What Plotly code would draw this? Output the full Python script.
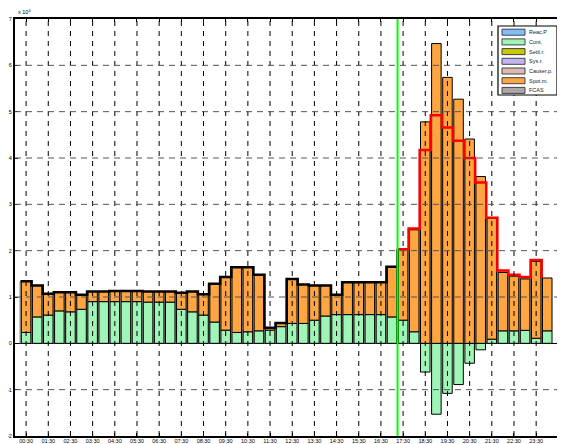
import plotly.graph_objects as go

# half-hour trading intervals, 1 = 00:30 ... 48 = 24:00
period = list(range(1, 49))

# values in units of 1e4
cont = [0.235, 0.57, 0.61, 0.70, 0.68, 0.735, 0.90, 0.90, 0.90, 0.90,
        0.90, 0.89, 0.89, 0.89, 0.735, 0.68, 0.61, 0.46, 0.285, 0.235,
        0.25, 0.27, 0.285, 0.36, 0.43, 0.43, 0.50, 0.59, 0.62, 0.62,
        0.62, 0.62, 0.62, 0.57, 0.50, 0.25, -0.62, -1.53, -1.08, -0.89,
        -0.43, -0.14, 0.09, 0.27, 0.27, 0.28, 0.11, 0.27]
spot = [1.105, 0.68, 0.46, 0.40, 0.42, 0.315, 0.22, 0.22, 0.23, 0.23,
        0.23, 0.23, 0.23, 0.23, 0.355, 0.44, 0.45, 0.825, 1.145, 1.405,
        1.39, 1.21, 0.05, 0.08, 0.96, 0.84, 0.75, 0.66, 0.43, 0.70,
        0.70, 0.70, 0.70, 1.085, 1.53, 2.20, 4.78, 6.47, 5.74, 5.27,
        4.41, 3.60, 2.62, 1.26, 1.18, 1.11, 1.66, 1.14]

# forecast total for the rest of the day
forecast_period = list(range(35, 49))
forecast = [2.03, 2.48, 4.17, 4.92, 4.66, 4.37, 4.00, 3.47, 2.71, 1.57,
            1.48, 1.43, 1.80, 1.41]

now_time = "17:15"

tick_labels = ["00:30", "01:30", "02:30", "03:30", "04:30", "05:30", "06:30",
               "07:30", "08:30", "09:30", "10:30", "11:30", "12:30", "13:30",
               "14:30", "15:30", "16:30", "17:30", "18:30", "19:30", "20:30",
               "21:30", "22:30", "23:30"]
y_ticks = [-2, -1, 0, 1, 2, 3, 4, 5, 6, 7]

legend_names = ["Reac.P", "Cont.", "Settl.r.", "Sys.r.", "Causer.p.", "Spot.m.", "FCAS"]
legend_colors = ["#80BFFF", "#9EF5B6", "#C8C800", "#C6B4F2", "#DCBAB4", "#FFA541", "#AEA6A6"]

SCALE = 1e4
FONT = "Liberation Sans"

cont_v = [c * SCALE for c in cont]
spot_v = [s * SCALE for s in spot]
actual_total = [max(c, 0) + s for c, s in zip(cont, spot)]
n_hist = forecast_period[0] - 1
stairs = actual_total[:n_hist] + forecast

hh, mm = now_time.split(":")
now_x = (int(hh) + int(mm) / 60) * 2

fig = go.Figure()

# grey shadow bars behind (main axes)
fig.add_trace(go.Bar(x=period, y=[v * SCALE for v in stairs], width=0.9, offset=-0.6,
                     marker=dict(color="#9a9a9a", line=dict(width=0)), showlegend=False))

# stacked component bars on overlay axis
fig.add_trace(go.Bar(x=period, y=cont_v, width=0.86, xaxis="x2", name="Cont.",
                     marker=dict(color=legend_colors[1], line=dict(color="black", width=1)),
                     showlegend=False))
fig.add_trace(go.Bar(x=period, y=spot_v, width=0.86, xaxis="x2", name="Spot.m.",
                     marker=dict(color=legend_colors[5], line=dict(color="black", width=1)),
                     showlegend=False))

# stairs for actual and forecast totals
hist_x = [p - 0.5 for p in period[:n_hist + 1]]
hist_y = [v * SCALE for v in actual_total[:n_hist]] + [forecast[0] * SCALE]
fig.add_trace(go.Scatter(x=hist_x, y=hist_y, xaxis="x2", mode="lines",
                         line=dict(color="black", width=2.5, shape="hv"), showlegend=False))
fig.add_trace(go.Scatter(x=[p - 0.5 for p in forecast_period], y=[v * SCALE for v in forecast],
                         xaxis="x2", mode="lines",
                         line=dict(color="#FF0000", width=2.5, shape="hv"), showlegend=False))

shapes = []
# dashed grid on top of bars
for t in range(1, 50, 2):
    shapes.append(dict(type="line", xref="x", yref="paper", x0=t, x1=t, y0=0, y1=1,
                       layer="above", line=dict(color="black", width=1, dash="5px,5px")))
for yv in y_ticks:
    if yv in (-2, 0, 7):
        continue
    shapes.append(dict(type="line", xref="paper", yref="y", x0=0, x1=1, y0=yv * SCALE,
                       y1=yv * SCALE, layer="above",
                       line=dict(color="#555", width=1, dash="6px,5px")))
# now marker
shapes.append(dict(type="line", xref="x", yref="paper", x0=now_x, x1=now_x, y0=0, y1=1,
                   layer="above", line=dict(color="#00FF00", width=2)))

# page body has an 8px margin, so the figure is drawn 8px in from the window corner
BODY = 8
W, H = 565 - BODY, 444 - BODY
# plot box in window pixels
LEFT, TOP, BOTTOM = 15, 19, 436
PW, PH = 565 - LEFT, BOTTOM - TOP


def px(x):
    return (x - LEFT) / PW


def py(y):
    return (BOTTOM - y) / PH


shapes.append(dict(type="rect", xref="paper", yref="paper", x0=px(498), x1=px(557),
                   y0=py(95), y1=py(26), fillcolor="white", layer="above",
                   line=dict(color="black", width=1.2)))
annotations = []
for i, (nm, col) in enumerate(zip(legend_names, legend_colors)):
    yc = 32.2 + 9.7 * i
    shapes.append(dict(type="rect", xref="paper", yref="paper", x0=px(502), x1=px(525),
                       y0=py(yc + 3), y1=py(yc - 3), fillcolor=col, layer="above",
                       line=dict(color="#444", width=1)))
    annotations.append(dict(text=nm, xref="paper", yref="paper", x=px(526.5), y=py(yc),
                            xanchor="left", yanchor="middle", showarrow=False,
                            font=dict(family=FONT, size=5.5, color="#222")))

annotations.append(dict(text="x 10<sup>4</sup>", xref="paper", yref="paper", x=px(16), y=py(12),
                        xanchor="left", yanchor="middle", showarrow=False,
                        font=dict(family=FONT, size=5.5, color="black")))

fig.update_layout(
    width=W, height=H,
    margin=dict(l=LEFT - BODY, r=0, t=TOP - BODY, b=H - (BOTTOM - BODY), pad=0),
    plot_bgcolor="white", paper_bgcolor="white",
    barmode="relative",
    showlegend=False,
    font=dict(family=FONT, size=6, color="black"),
    shapes=shapes,
    annotations=annotations,
    xaxis=dict(range=[0, 49.6], tickvals=list(range(1, 49, 2)), ticktext=tick_labels,
               ticks="inside", ticklen=3, tickcolor="black", showline=True, linecolor="black",
               linewidth=2, mirror="allticks", showgrid=False, zeroline=False,
               tickfont=dict(size=5.5), tickangle=0, automargin=False,
               ticklabelstandoff=-2),
    xaxis2=dict(range=[0, 49.6], overlaying="x", visible=False),
    yaxis=dict(range=[-2 * SCALE, 7 * SCALE], tickvals=[v * SCALE for v in y_ticks],
               ticktext=[str(v) for v in y_ticks], ticks="inside", ticklen=3,
               tickcolor="black", showline=True, linecolor="black", linewidth=2,
               showgrid=False, zeroline=True, zerolinecolor="black", zerolinewidth=1,
               tickfont=dict(size=5.5), automargin=False),
)

fig.write_html("out.html")
